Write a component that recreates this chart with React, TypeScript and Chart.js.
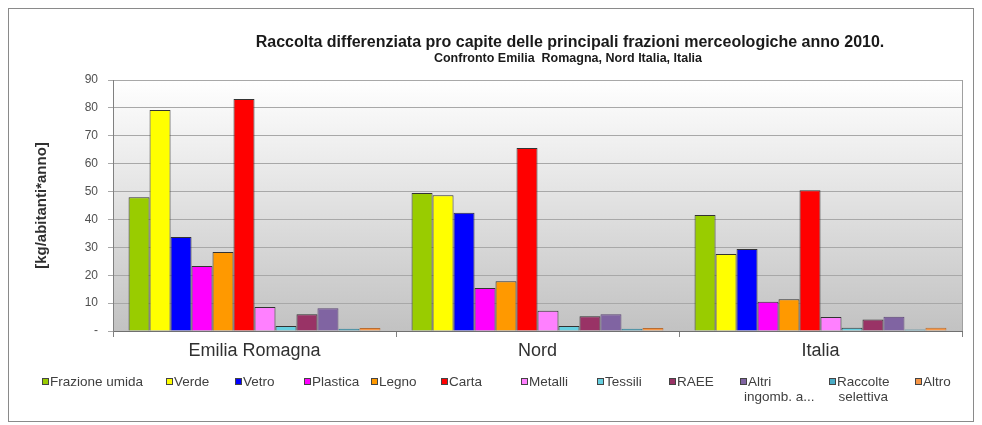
import React, { useEffect, useRef } from 'react';
import { Chart, registerables } from 'chart.js';

Chart.register(...registerables);

const categories = ['Emilia Romagna', 'Nord', 'Italia'];
const seriesNames = [
  'Frazione umida', 'Verde', 'Vetro', 'Plastica', 'Legno', 'Carta',
  'Metalli', 'Tessili', 'RAEE', 'Altri\ningomb. a...', 'Raccolte\nselettiva', 'Altro',
];
const frazioneUmida = [48.0, 49.5, 41.6];
const verde = [79.2, 48.7, 27.6];
const vetro = [33.7, 42.4, 29.4];
const plastica = [23.3, 15.4, 10.5];
const legno = [28.3, 17.8, 11.4];
const carta = [83.2, 65.6, 50.5];
const metalli = [8.6, 7.3, 5.0];
const tessili = [1.8, 1.8, 1.2];
const raee = [6.0, 5.3, 4.1];
const altriIngombranti = [8.2, 6.0, 5.1];
const raccolteSelettive = [0.8, 0.8, 0.5];
const altro = [1.1, 1.1, 1.2];
const yTickValues = [0, 10, 20, 30, 40, 50, 60, 70, 80, 90];

const title = 'Raccolta differenziata pro capite delle principali frazioni merceologiche anno 2010.';
const subtitle = 'Confronto Emilia  Romagna, Nord Italia, Italia';
const yAxisTitle = '[kg/abitanti*anno]';

const seriesValues = [
  frazioneUmida, verde, vetro, plastica, legno, carta,
  metalli, tessili, raee, altriIngombranti, raccolteSelettive, altro,
];
const fillColors = [
  '#99cc00', '#ffff00', '#0000ff', '#ff00ff', '#ff9900', '#ff0000',
  '#ff80ff', '#66cfe0', '#993366', '#8064a2', '#4bacc6', '#f79646',
];
const borderColors = [
  '#333333', '#333333', '#333333', '#333333', '#333333', '#333333',
  '#333333', '#333333', '#333333', '#5c4776', '#357d90', '#b86d32',
];
const legendX = [33, 157, 226, 295, 362, 432, 512, 588, 660, 731, 820, 906];

const FONT = '"Liberation Sans", Arial, sans-serif';

const bgPlugin = {
  id: 'plotBg',
  beforeDraw(chart: any) {
    const { ctx, chartArea } = chart;
    if (!chartArea) return;
    const g = ctx.createLinearGradient(0, chartArea.top, 0, chartArea.bottom);
    g.addColorStop(0, '#ffffff');
    g.addColorStop(1, '#c2c2c2');
    ctx.save();
    ctx.fillStyle = g;
    ctx.fillRect(chartArea.left, chartArea.top, chartArea.right - chartArea.left, chartArea.bottom - chartArea.top);
    ctx.restore();
  },
  afterDraw(chart: any) {
    const { ctx, chartArea } = chart;
    ctx.save();
    ctx.strokeStyle = '#a0a0a0';
    ctx.lineWidth = 1;
    ctx.beginPath();
    ctx.moveTo(Math.round(chartArea.right) + 0.5, chartArea.top);
    ctx.lineTo(Math.round(chartArea.right) + 0.5, chartArea.bottom);
    ctx.stroke();

    // title
    ctx.fillStyle = '#1a1a1a';
    ctx.textAlign = 'center';
    ctx.textBaseline = 'middle';
    ctx.font = `bold 16px ${FONT}`;
    ctx.fillText(title, 561, 34);
    ctx.font = `bold 12.5px ${FONT}`;
    ctx.fillText(subtitle, 559, 50);

    // legend
    ctx.font = `13.5px ${FONT}`;
    ctx.textAlign = 'left';
    const rowY = 373;
    chart.data.datasets.forEach((ds: any, i: number) => {
      const x = legendX[i];
      ctx.fillStyle = ds.backgroundColor;
      ctx.fillRect(x, rowY - 4, 7, 7);
      ctx.strokeStyle = '#444444';
      ctx.lineWidth = 1;
      ctx.strokeRect(x + 0.5, rowY - 3.5, 6, 6);
      ctx.fillStyle = '#404040';
      const lines = String(ds.label).split('\n');
      ctx.fillText(lines[0], x + 8, rowY);
      if (lines.length > 1) {
        const c = x + 8 + ctx.measureText(lines[0]).width / 2;
        for (let k = 1; k < lines.length; k++) {
          const w = ctx.measureText(lines[k]).width;
          const lx = Math.max(x + 4, c - w / 2);
          ctx.fillText(lines[k], lx, rowY + k * 15);
        }
      }
    });
    ctx.restore();
  },
};

export default function App() {
  const ref = useRef<HTMLCanvasElement>(null);
  useEffect(() => {
    if (!ref.current) return;
    const chart = new Chart(ref.current, {
      type: 'bar',
      data: {
        labels: categories,
        datasets: seriesNames.map((name, i) => ({
          label: name,
          data: seriesValues[i],
          backgroundColor: fillColors[i],
          borderColor: borderColors[i],
          borderWidth: 1,
          categoryPercentage: 0.89,
          barPercentage: 1.0,
        })),
      },
      options: {
        responsive: false,
        animation: false,
        layout: { padding: { top: 71, right: 11, bottom: 50, left: 0 } },
        plugins: {
          legend: { display: false },
          title: { display: false },
          tooltip: { enabled: false },
        },
        scales: {
          x: {
            grid: {
              display: true,
              drawOnChartArea: false,
              drawTicks: true,
              tickLength: 6,
              color: '#808080',
            },
            border: { display: true, color: '#707070', width: 1 },
            ticks: {
              color: '#303030',
              padding: 3,
              font: { family: FONT, size: 18 },
            },
            afterFit(scale: any) {
              scale.height = 40;
            },
          },
          y: {
            min: yTickValues[0],
            max: yTickValues[yTickValues.length - 1],
            afterBuildTicks(scale: any) {
              scale.ticks = yTickValues.map((v) => ({ value: v }));
            },
            grid: {
              color: '#a8a8a8',
              tickLength: 5,
              drawTicks: true,
            },
            border: { display: true, color: '#808080', width: 1 },
            ticks: {
              color: '#505050',
              padding: 10,
              font: { family: FONT, size: 12 },
              callback: (v: any) => (Number(v) === 0 ? '-' : String(v)),
            },
            title: {
              display: true,
              text: yAxisTitle,
              color: '#303030',
              padding: { top: 24, bottom: 0 },
              font: { family: FONT, size: 15, weight: 'bold' },
            },
            afterFit(scale: any) {
              scale.width = 104;
            },
          },
        },
      },
      plugins: [bgPlugin],
    });
    return () => chart.destroy();
  }, []);

  return (
    <div
      style={{
        width: 966,
        height: 414,
        border: '1px solid #8a8a8a',
        boxSizing: 'border-box',
        background: '#ffffff',
        boxShadow: '1px 1px 1px #c0c0c0',
      }}
    >
      <canvas ref={ref} width={964} height={412} style={{ display: 'block' }} />
    </div>
  );
}
